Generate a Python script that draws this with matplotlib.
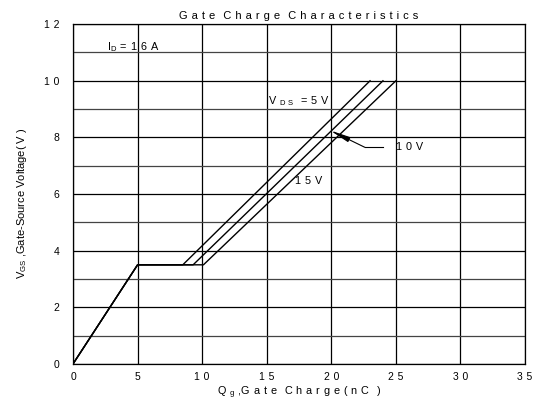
import numpy as np
import matplotlib.pyplot as plt

plt.rcParams['font.family'] = ['Liberation Sans', 'DejaVu Sans']
plt.rcParams['mathtext.fontset'] = 'custom'
plt.rcParams['mathtext.rm'] = 'Liberation Sans'

# gate charge curves (Qg in nC, Vgs in V) for Vds = 5, 10, 15 V
qg_5 = [0, 5, 8.5, 23.0]
vgs_5 = [0, 3.5, 3.5, 10]
qg_10 = [0, 5, 9.3, 24.0]
vgs_10 = [0, 3.5, 3.5, 10]
qg_15 = [0, 5, 10.1, 25.0]
vgs_15 = [0, 3.5, 3.5, 10]

xticks = [0, 5, 10, 15, 20, 25, 30, 35]
yticks = [0, 2, 4, 6, 8, 10, 12]

SP = ' \u200a'  # wide letter spacing like the datasheet

def spaced(s):
    return SP.join(s)

fig = plt.figure(figsize=(5.33, 4.03), dpi=100)
ax = fig.add_axes([0.137, 0.097, 0.848, 0.843])
ax.set_xlim(0, 35)
ax.set_ylim(0, 12)

# grid
for x in xticks:
    ax.axvline(x, color='black', lw=0.9, zorder=1)
for y in range(0, 13):
    ax.axhline(y, color='black' if y % 2 == 0 else '#444444', lw=0.9, zorder=1)

for q, v in [(qg_5, vgs_5), (qg_10, vgs_10), (qg_15, vgs_15)]:
    ax.plot(q, v, color='black', lw=1.0, zorder=3)

ax.set_xticks(xticks)
ax.set_xticklabels([spaced(str(t)) for t in xticks])
ax.set_yticks(yticks)
ax.set_yticklabels([spaced(str(t)) for t in yticks])
ax.tick_params(length=0, labelsize=7.5, pad=10)
ax.tick_params(axis='x', pad=6)
for s in ax.spines.values():
    s.set_linewidth(0.9)

ax.set_title(spaced('Gate') + SP * 2 + spaced('Charge') + SP * 2 + spaced('Characteristics'),
             fontsize=8, pad=4)
ax.set_xlabel('Q' + SP + r'$_{\rm g}$' + SP + ',' + spaced('Gate') + SP * 2
              + spaced('Charge(nC') + SP * 2 + ')', fontsize=7.8, labelpad=2)
fig.text(0.042, 0.496, r'V$_{\rm GS}$ ,Gate-Source Voltage( V )', fontsize=8,
         rotation=90, ha='center', va='center')

# annotations
ax.text(2.6, 11.2, r'I$_{\rm D}$' + SP + '=' + SP + spaced('16') + SP + 'A',
        fontsize=7.8, va='center', zorder=4)
ax.text(15.1, 9.3, 'V' + SP + r'$_{\rm D\ S}$' + SP * 2 + '=' + SP + '5' + SP + 'V',
        fontsize=7.8, va='center', zorder=4)
ax.text(17.2, 6.45, spaced('15') + SP + 'V', fontsize=7.8, va='center', zorder=4)
ax.text(25.0, 7.65, spaced('10') + SP + 'V', fontsize=7.8, va='center', zorder=4)
ax.plot([24.0, 22.6], [7.65, 7.65], color='black', lw=0.8, zorder=4)
ax.annotate('', xy=(19.9, 8.25), xytext=(22.6, 7.65),
            arrowprops=dict(arrowstyle='-|>,head_length=1.0,head_width=0.13',
                            color='black', lw=0.8, mutation_scale=12,
                            shrinkA=0, shrinkB=0), zorder=4)

fig.savefig('out.png', dpi=100)
